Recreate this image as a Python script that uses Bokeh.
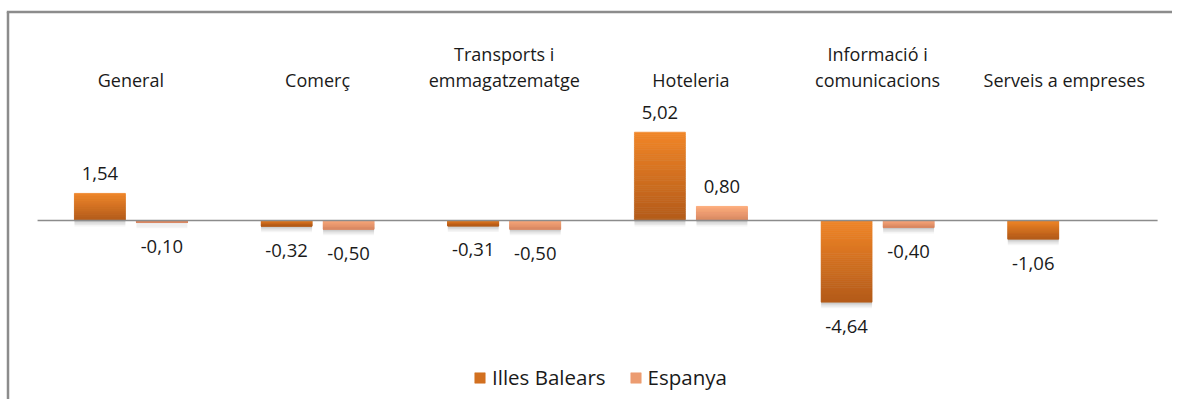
import numpy as np
from bokeh.plotting import figure
from bokeh.models import Range1d, Legend, LegendItem, ColumnDataSource
from bokeh.core.properties import value
from bokeh.embed import file_html
from bokeh.resources import INLINE

# ---------------- data ----------------
categories = ["General", "Comerç", "Transports i\nemmagatzematge", "Hoteleria",
              "Informació i\ncomunicacions", "Serveis a empreses"]
illes_balears = [1.54, -0.32, -0.31, 5.02, -4.64, -1.06]
espanya = [-0.10, -0.50, -0.50, 0.80, -0.40, None]
series_names = ["Illes Balears", "Espanya"]

# ---------------- layout ----------------
W, H = 1172, 399
PX_PER_UNIT = 17.6      # vertical pixels per data unit
ZERO_PX = 220           # zero line, px from top of canvas
CAT_PX = 186.67         # category band width in px
CAT0_PX = 37.07         # left edge of first category band, px

x_start = -CAT0_PX / CAT_PX
x_end = (W - CAT0_PX) / CAT_PX
y_end = ZERO_PX / PX_PER_UNIT
y_start = -(H - ZERO_PX) / PX_PER_UNIT


def py(d):
    return d / PX_PER_UNIT


def px(d):
    return d / CAT_PX


def sx(pix):  # screen x (from left) -> data
    return x_start + pix / CAT_PX


def sy(pix):  # screen y (from top) -> data
    return y_end - pix / PX_PER_UNIT


FONT = "Open Sans"
TEXT_COLOR = "#1a1a1a"
GREY = "#8c8c8c"

p = figure(width=W, height=H, x_range=Range1d(x_start, x_end), y_range=Range1d(y_start, y_end),
           output_backend="svg", toolbar_location=None, min_border=0,
           x_axis_type=None, y_axis_type=None)
p.outline_line_color = None
p.background_fill_color = "white"
p.border_fill_color = "white"

BAR_W = px(51)
OFFSETS = [px(-31), px(31)]
GRADS = [((0xF1, 0x86, 0x27), (0xB4, 0x5B, 0x1A)),
         ((0xFF, 0xAE, 0x7F), (0xDA, 0x8A, 0x64))]
N_SLICES = 40


def lerp(c1, c2, t):
    return "#%02x%02x%02x" % tuple(int(round(a + (b - a) * t)) for a, b in zip(c1, c2))


# chart border (left and top edges visible)
p.segment(x0=[sx(7.5)], y0=[sy(11.5)], x1=[sx(7.5)], y1=[y_start], line_color=GREY, line_width=2.5)
p.segment(x0=[sx(6.3)], y0=[sy(11.5)], x1=[x_end], y1=[sy(11.5)], line_color=GREY, line_width=2.5)

# shadows
for s, vals in enumerate([illes_balears, espanya]):
    for off, alpha in [(1.5, 0.07), (3.0, 0.06), (4.5, 0.05), (6.0, 0.04)]:
        xs, tops, bots = [], [], []
        for i, v in enumerate(vals):
            if v is None:
                continue
            xs.append(i + 0.5 + OFFSETS[s])
            tops.append(max(v, 0) - py(off))
            bots.append(min(v, 0) - py(off))
        p.vbar(x=xs, top=tops, bottom=bots, width=BAR_W, fill_color="black",
               fill_alpha=alpha, line_color=None)

# bars with vertical gradient
legend_items = []
for s, vals in enumerate([illes_balears, espanya]):
    c_top, c_bot = GRADS[s]
    xs, tops, bots, cols = [], [], [], []
    for i, v in enumerate(vals):
        if v is None:
            continue
        t, b = max(v, 0), min(v, 0)
        for k in range(N_SLICES):
            xs.append(i + 0.5 + OFFSETS[s])
            tops.append(t - (t - b) * k / N_SLICES)
            bots.append(t - (t - b) * (k + 1) / N_SLICES)
            cols.append(lerp(c_top, c_bot, (k + 0.5) / N_SLICES))
    src = ColumnDataSource(dict(x=xs, top=tops, bottom=bots, color=cols))
    r = p.vbar(x="x", top="top", bottom="bottom", width=BAR_W, fill_color="color",
               line_color="color", line_width=0.6, source=src)
    legend_items.append(LegendItem(label=series_names[s], renderers=[r], index=N_SLICES // 2))

# zero line
p.segment(x0=[0], y0=[0], x1=[len(categories)], y1=[0], line_color=GREY, line_width=1.6)

# value labels
for s, vals in enumerate([illes_balears, espanya]):
    lx, ly, lt = [], [], []
    for i, v in enumerate(vals):
        if v is None:
            continue
        lx.append(i + 0.5 + OFFSETS[s])
        ly.append(v + py(20) if v >= 0 else v - py(24))
        lt.append(f"{v:.2f}".replace(".", ","))
    p.text(x=lx, y=ly, text=lt, text_font=value(FONT), text_font_size="18.5px",
           text_color=TEXT_COLOR, text_align="center", text_baseline="middle")

# category labels (top of chart)
line_top = [c.split("\n")[0] if "\n" in c else "" for c in categories]
line_bot = [c.split("\n")[-1] for c in categories]
cx = [i + 0.5 for i in range(len(categories))]
p.text(x=cx, y=[sy(79)] * len(cx), text=line_bot, text_font=value(FONT), text_font_size="18px",
       text_color=TEXT_COLOR, text_align="center", text_baseline="middle")
p.text(x=cx, y=[sy(53)] * len(cx), text=line_top, text_font=value(FONT),
       text_font_size="18px", text_color=TEXT_COLOR, text_align="center",
       text_baseline="middle")

legend = Legend(items=legend_items, orientation="horizontal", location=(473, 8),
                label_text_font=FONT, label_text_font_size="20.5px", label_text_color=TEXT_COLOR,
                glyph_width=13, glyph_height=13, label_standoff=6, spacing=23,
                padding=0, margin=0, border_line_color=None, background_fill_alpha=0,
                label_height=24)
p.add_layout(legend)

open("out.html", "w").write(file_html(p, INLINE))
